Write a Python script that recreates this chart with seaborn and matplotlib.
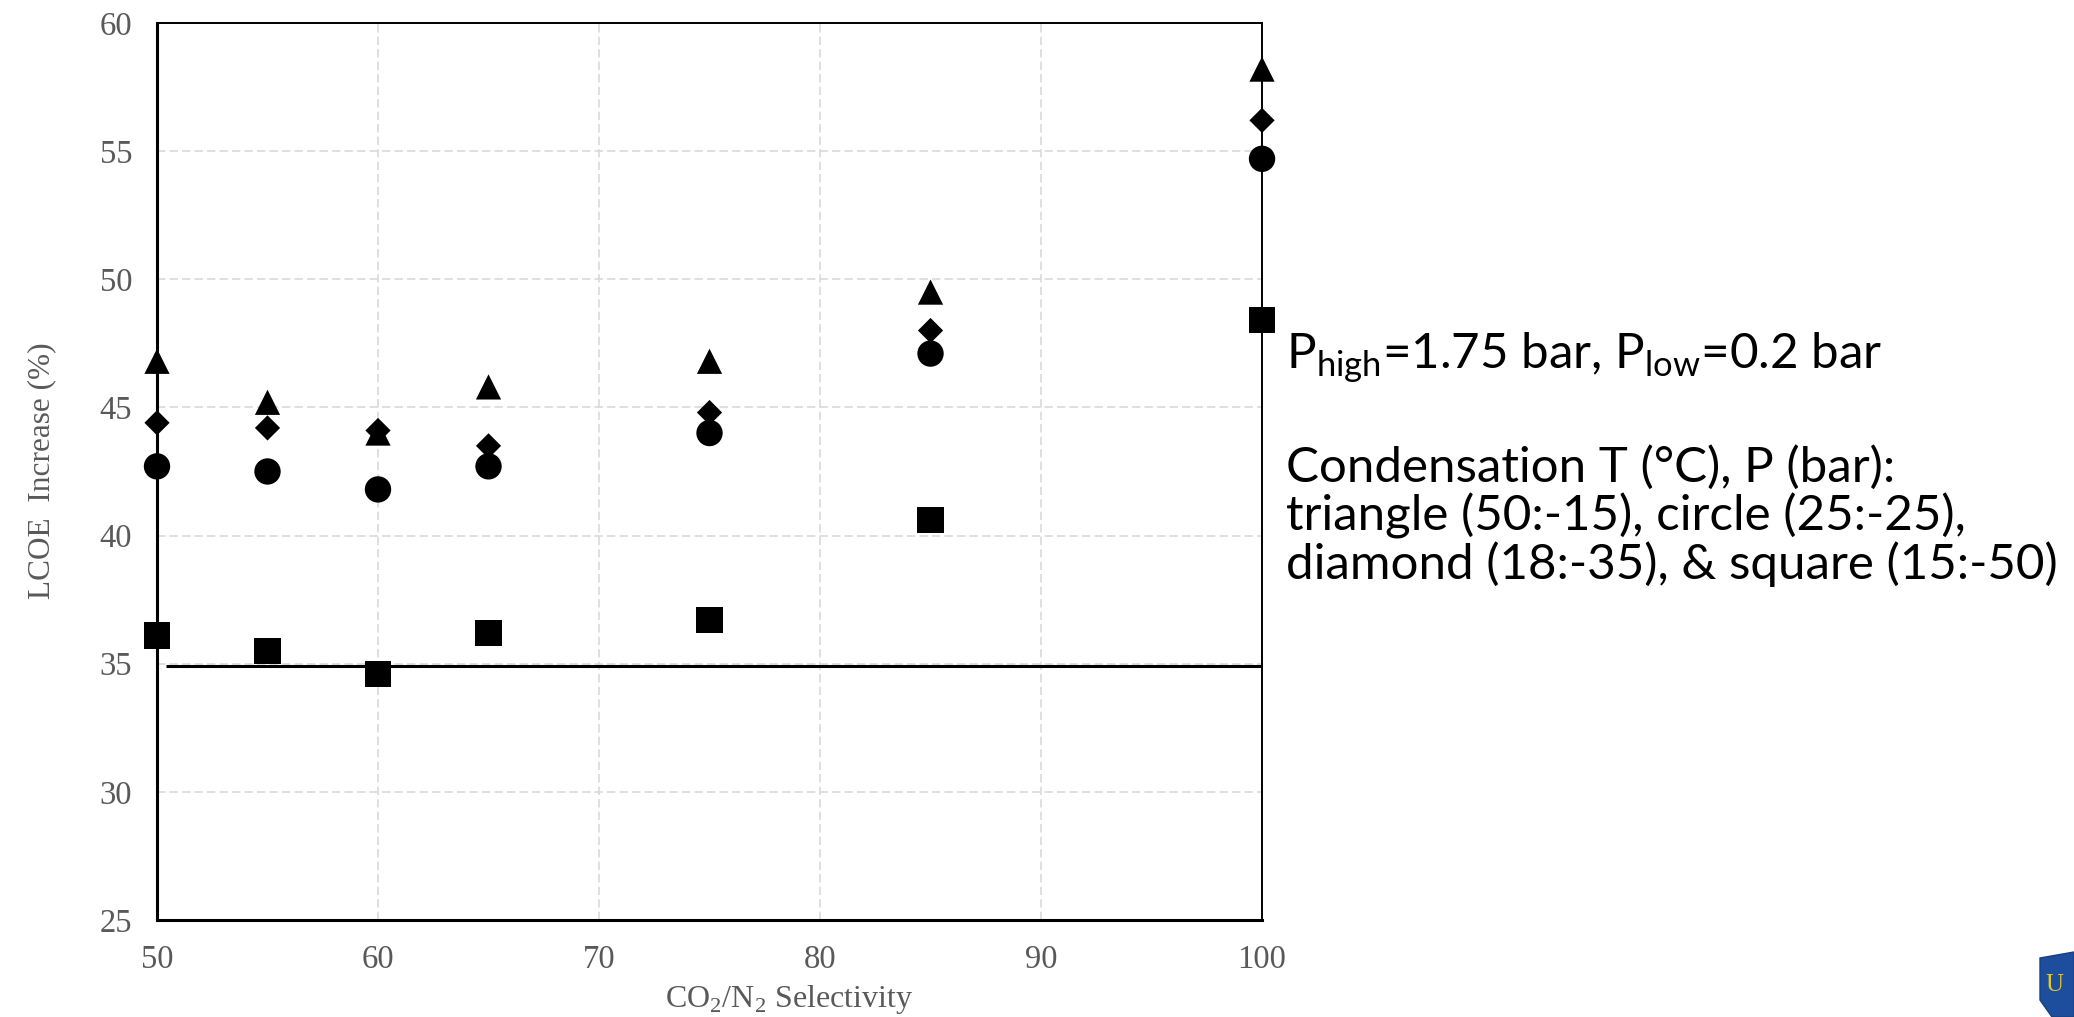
import matplotlib
matplotlib.use("Agg")
import matplotlib.pyplot as plt
from matplotlib.patches import Polygon
from matplotlib.ticker import MultipleLocator
import numpy as np
import pandas as pd
import seaborn as sns

# CO2/N2 selectivity values
selectivity = [50, 55, 60, 65, 75, 85, 100]

# LCOE increase (%) for each condensation condition
triangle_vals = [46.8, 45.2, 44.0, 45.8, 46.8, 49.5, 58.2]
diamond_vals = [44.4, 44.2, 44.1, 43.5, 44.8, 48.0, 56.2]
circle_vals = [42.7, 42.5, 41.8, 42.7, 44.0, 47.1, 54.7]
square_vals = [36.1, 35.5, 34.6, 36.2, 36.7, 40.6, 48.4]

# reference line
ref_level = 34.9
ref_span = [50.4, 100]

series_names = ["triangle", "diamond", "circle", "square"]

x_ticks = [50, 60, 70, 80, 90, 100]
y_ticks = [25, 30, 35, 40, 45, 50, 55, 60]

note_line1 = r"P$_{\mathsf{high}}$=1.75 bar, P$_{\mathsf{low}}$=0.2 bar"
note_block = ("Condensation T (\u00b0C), P (bar):\n"
              "triangle (50:-15), circle (25:-25),\n"
              "diamond (18:-35), & square (15:-50)")


def build_frame():
    """
    Long-form table with one row per marker.
    """
    frames = []
    for name, vals in zip(series_names, [triangle_vals, diamond_vals, circle_vals, square_vals]):
        frames.append(pd.DataFrame({"selectivity": selectivity, "lcoe": vals, "condition": name}))
    return pd.concat(frames, ignore_index=True)


sns.set_theme(style="white")
plt.rcParams["font.family"] = ["Liberation Serif", "DejaVu Serif"]
plt.rcParams["mathtext.fontset"] = "custom"
plt.rcParams["mathtext.rm"] = "Liberation Serif"
plt.rcParams["mathtext.sf"] = "Lato"

fig = plt.figure(figsize=(20.74, 10.17), dpi=100)
ax = fig.add_axes([0.0757, 0.0954, 0.5328, 0.8820])

data = build_frame()

marker_map = {"triangle": "^", "diamond": "D", "circle": "o", "square": "s"}
size_map = {"triangle": 330, "diamond": 165, "circle": 360, "square": 360}

sns.scatterplot(data=data, x="selectivity", y="lcoe", style="condition", size="condition",
                markers=marker_map, sizes=size_map, color="black", edgecolor="black",
                linewidth=0, legend=False, clip_on=False, zorder=5, ax=ax)

ax.hlines(ref_level, ref_span[0], ref_span[1], color="black", linewidth=2.2, zorder=4)

ax.set_xlim(50, 100)
ax.set_ylim(25, 60)
ax.set_xticks(x_ticks)
ax.set_yticks(y_ticks)
ax.xaxis.set_minor_locator(MultipleLocator(2))
ax.yaxis.set_minor_locator(MultipleLocator(1))

ax.grid(True, which="major", color="#d9d9d9", linestyle=(0, (5, 2.5)), linewidth=1.2)
ax.set_axisbelow(True)

ax.tick_params(axis="both", which="major", direction="in", length=7, width=1.6,
               color="black", labelsize=23.5, labelcolor="#595959", pad=18)
ax.tick_params(axis="both", which="minor", direction="in", length=5.5, width=1.6, color="black")
ax.tick_params(top=False, right=False, which="both")

for side in ["left", "bottom"]:
    ax.spines[side].set_linewidth(2.2)
    ax.spines[side].set_color("black")
for side in ["top", "right"]:
    ax.spines[side].set_linewidth(1.4)
    ax.spines[side].set_color("black")

ax.set_xlabel("")
ax.set_ylabel("")
fig.text(42 / 2074, 1 - 471 / 1017, "LCOE  Increase (%)", rotation=90, ha="center", va="center",
         fontsize=22.5, color="#595959")
fig.text(789 / 2074, 1 - 1000 / 1017, r"CO$_2$/N$_2$ Selectivity", ha="center", va="center",
         fontsize=23, color="#595959")

fig.text(1286 / 2074, 1 - 357 / 1017, note_line1, ha="left", va="center",
         fontsize=35.5, family="Lato", color="black")
fig.text(1286 / 2074, 1 - 516 / 1017, note_block, ha="left", va="center",
         fontsize=35.5, family="Lato", color="black", linespacing=1.07)

# corner logo fragment
shield = Polygon([[2040 / 2074, 1 - 958 / 1017], [2074 / 2074, 1 - 952 / 1017],
                  [2074 / 2074, 0.0], [2052 / 2074, 0.0], [2040 / 2074, 1 - 1000 / 1017]],
                 closed=True, transform=fig.transFigure, facecolor="#1d4e9e", edgecolor="#16407f")
fig.patches.append(shield)
fig.text(2045 / 2074, 1 - 985 / 1017, "U", ha="left", va="center", fontsize=18,
         color="#e8c820", family="Liberation Serif")

plt.savefig("out.png", dpi=100)
